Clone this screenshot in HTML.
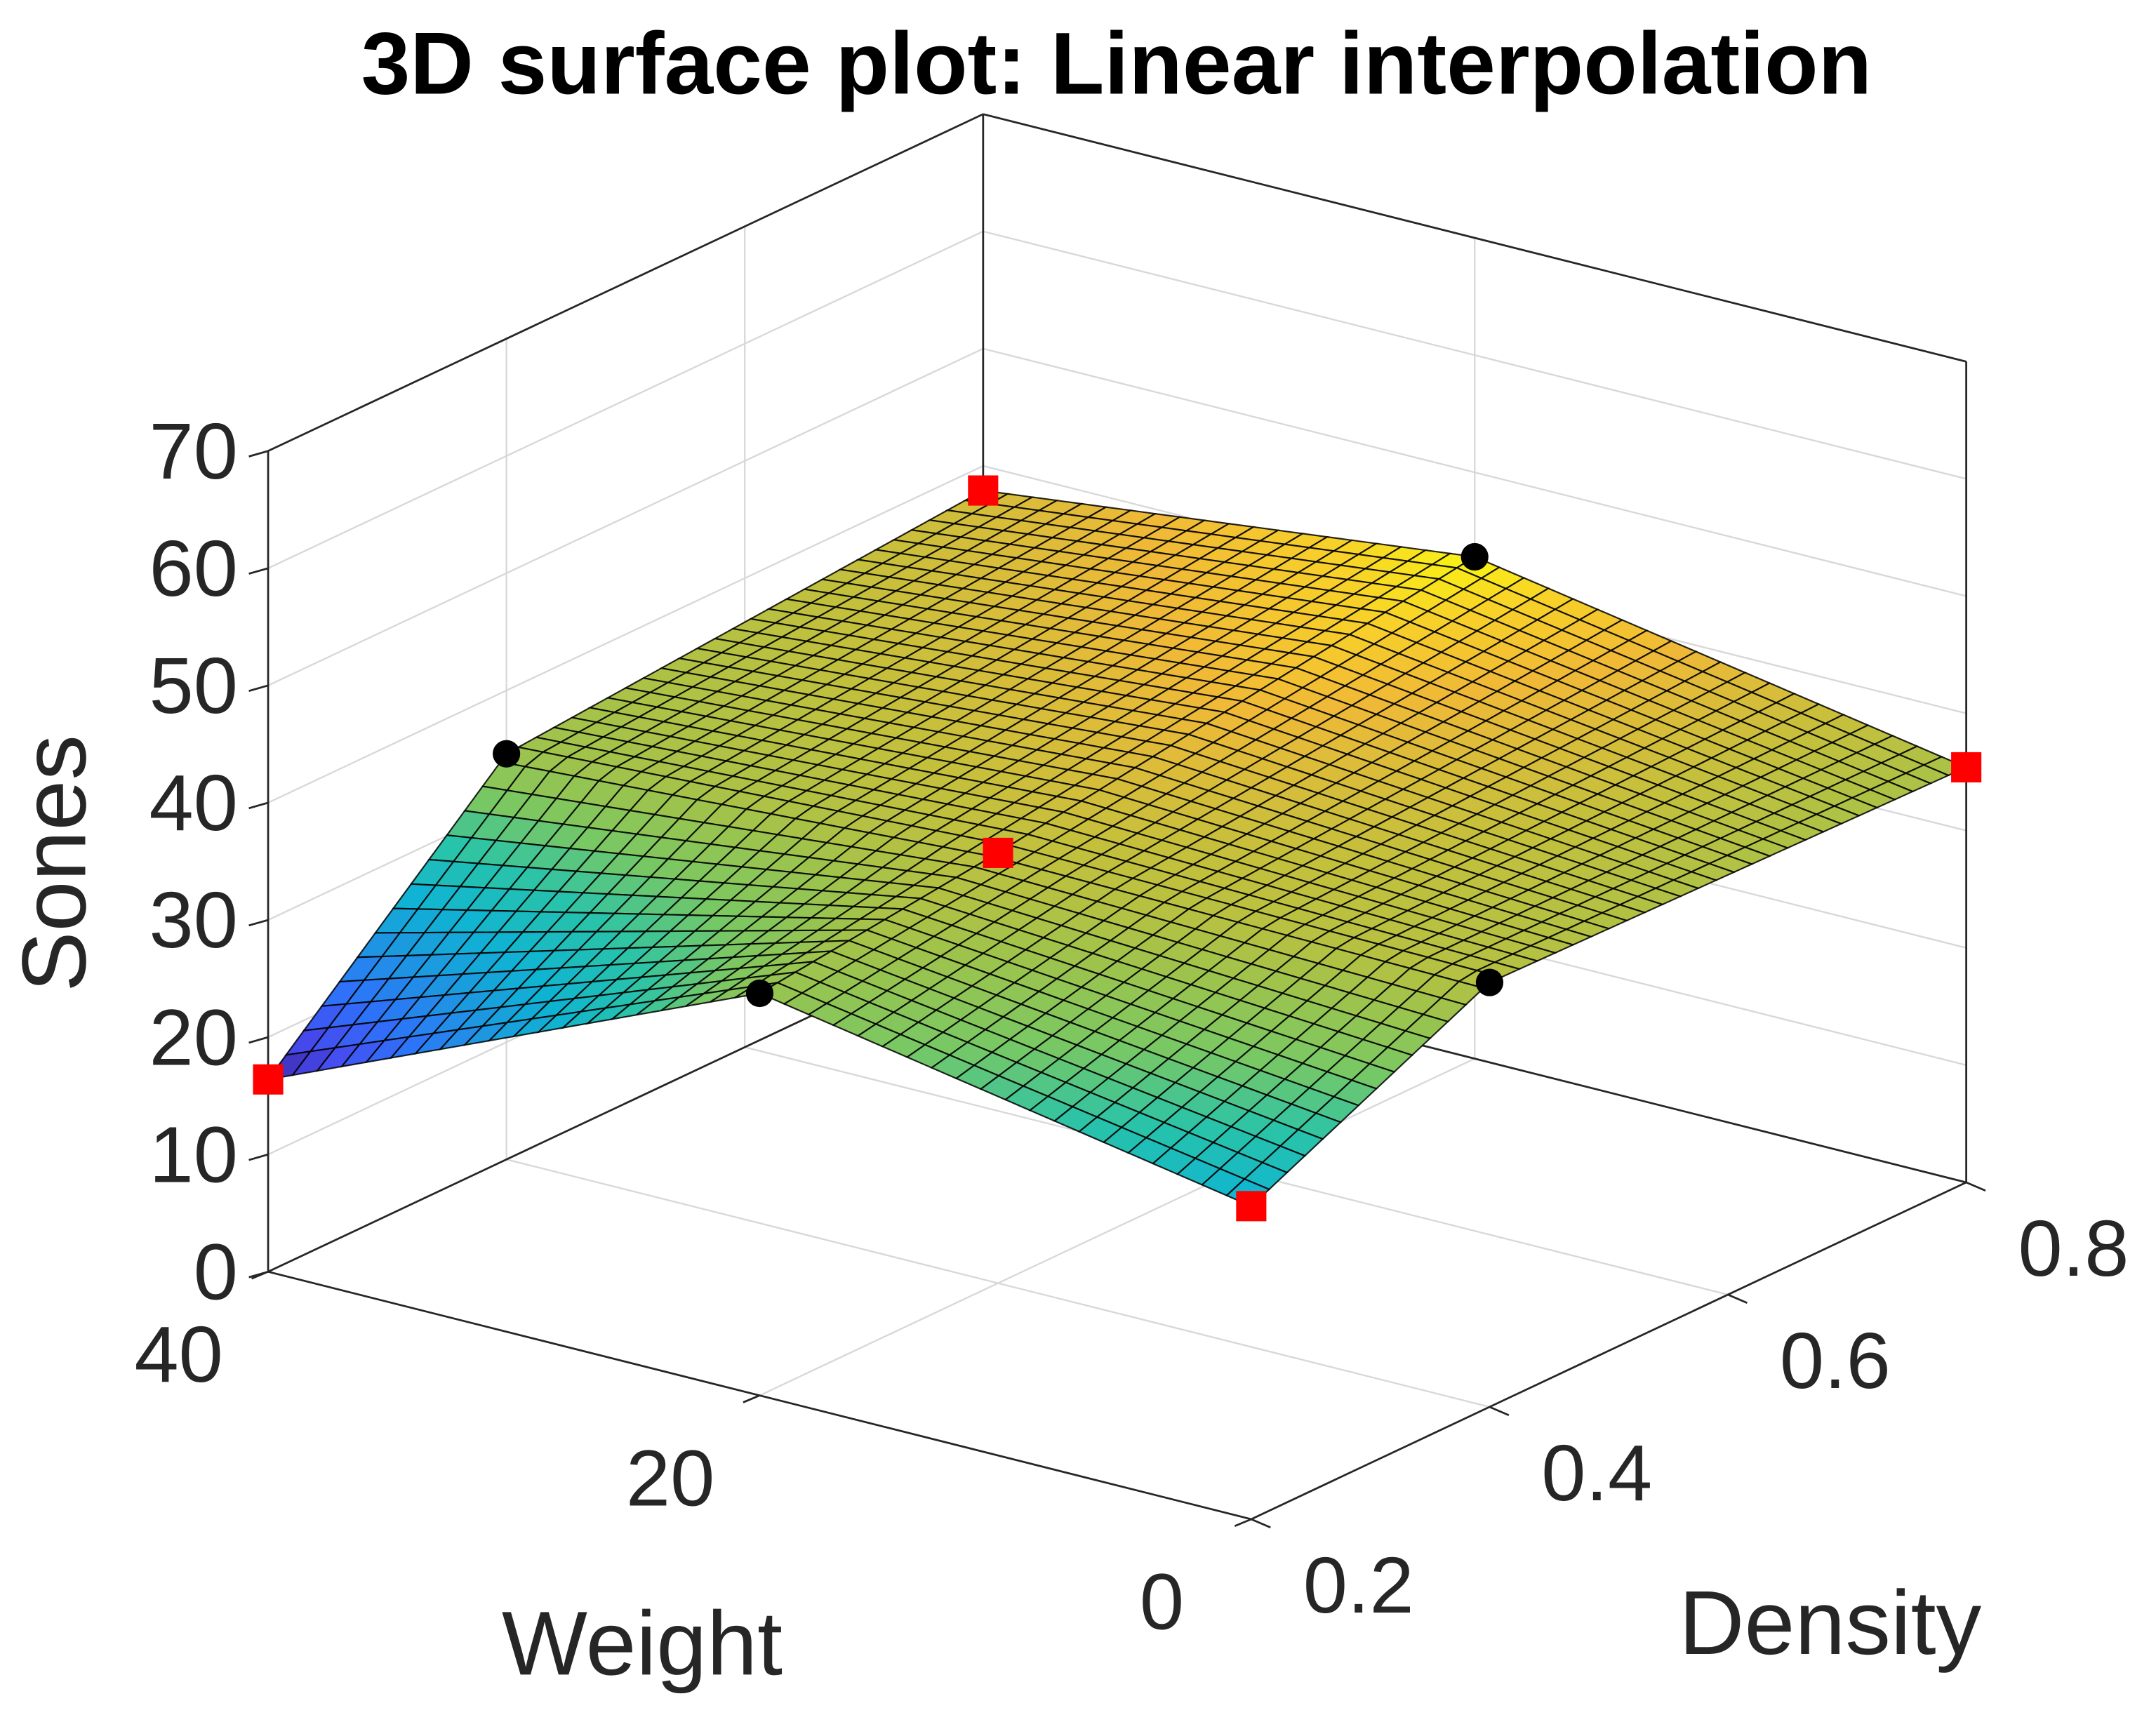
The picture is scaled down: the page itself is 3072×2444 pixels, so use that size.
<!DOCTYPE html>
<html><head><meta charset="utf-8">
<style>
html,body{margin:0;padding:0;background:#fff;}
svg{display:block;}
text{font-family:"Liberation Sans",Arial,sans-serif;fill:#262626;}
</style></head>
<body>
<svg id="chart" width="3072" height="2444" viewBox="0 0 1568 1247.4" xmlns="http://www.w3.org/2000/svg">
<g id="walls"></g>
<g id="surface"></g>
<g id="markers"></g>
<g id="labels"></g>
<text x="812" y="68" font-size="64" font-weight="bold" text-anchor="middle" style="fill:#000">3D surface plot: Linear interpolation</text>
<text x="0" y="0" font-size="66" text-anchor="middle" transform="translate(62,628) rotate(-90)">Sones</text>
<text x="467" y="1218" font-size="66" text-anchor="middle">Weight</text>
<text x="1331" y="1203" font-size="66" text-anchor="middle">Density</text>
</svg>
<script>
const weights = [0, 20, 40];
const densities = [0.2, 0.4, 0.8];
// sones[i][j] : weight index i, density index j
const sones = [
  [26.7, 36.2, 35.4],
  [34.3, 36.7, 42.8],
  [16.4, 34.6, 37.9]
];
const zTicks = [0, 10, 20, 30, 40, 50, 60, 70];
const wTicks = [0, 20, 40];
const dTicks = [0.2, 0.4, 0.6, 0.8];

const NS = 'http://www.w3.org/2000/svg';
const W0 = 0, W1 = 40, D0 = 0.2, D1 = 0.8, Z0 = 0, Z1 = 70;
function px(W, D, z) {
  const a = (W1 - W) / (W1 - W0), b = (D - D0) / (D1 - D0);
  return [195 + a * 715 + b * 520, 925 + a * 180 - b * 245 - (z - Z0) / (Z1 - Z0) * 597];
}
function mk(tag, attrs, parent) {
  const e = document.createElementNS(NS, tag);
  for (const k in attrs) e.setAttribute(k, attrs[k]);
  parent.appendChild(e);
  return e;
}
function line(p, q, stroke, sw, parent) {
  return mk('line', {x1: p[0], y1: p[1], x2: q[0], y2: q[1], stroke: stroke, 'stroke-width': sw}, parent);
}
const walls = document.getElementById('walls');
const grid = '#d8d8d8', axc = '#262626';
zTicks.forEach(z => {
  const g1 = line(px(W1, D0, z), px(W1, D1, z), grid, 1.2, walls);
  
  
  const g2 = line(px(W1, D1, z), px(W0, D1, z), grid, 1.2, walls);
  
  
});
dTicks.forEach(d => {
  const g = line(px(W1, d, Z0), px(W1, d, Z1), grid, 1.2, walls);
  
  
  const f = line(px(W1, d, Z0), px(W0, d, Z0), grid, 1.2, walls);
  
  
});
wTicks.forEach(w => {
  const g = line(px(w, D1, Z0), px(w, D1, Z1), grid, 1.2, walls);
  
  
  const f = line(px(w, D0, Z0), px(w, D1, Z0), grid, 1.2, walls);
  
  
});
[[px(W1,D0,Z0),px(W1,D0,Z1)],[px(W1,D1,Z0),px(W1,D1,Z1)],[px(W0,D1,Z0),px(W0,D1,Z1)],
 [px(W1,D0,Z1),px(W1,D1,Z1)],[px(W1,D1,Z1),px(W0,D1,Z1)],
 [px(W1,D0,Z0),px(W1,D1,Z0)],[px(W1,D1,Z0),px(W0,D1,Z0)],
 [px(W1,D0,Z0),px(W0,D0,Z0)],[px(W0,D0,Z0),px(W0,D1,Z0)]].forEach(s => {
  const e = line(s[0], s[1], axc, 1.4, walls);
  
  
});
const labels = document.getElementById('labels');
zTicks.forEach(z => {
  const p = px(W1, D0, z);
  const t = line([p[0] - 14, p[1] + 4], p, axc, 1.4, labels);
  
  
  const tx = mk('text', {x: p[0] - 22, y: p[1] + 20, 'font-size': 58, 'text-anchor': 'end'}, labels);
  tx.textContent = z;
  
  
});
wTicks.forEach(w => {
  const p = px(w, D0, Z0);
  const t = line(p, [p[0] - 12, p[1] + 5], axc, 1.4, labels);
  
  
  const tx = mk('text', {x: p[0] - 65, y: p[1] + 80, 'font-size': 58, 'text-anchor': 'middle'}, labels);
  tx.textContent = w;
  
  
});
dTicks.forEach(d => {
  const p = px(W0, d, Z0);
  const t = line(p, [p[0] + 14, p[1] + 6], axc, 1.4, labels);
  
  
  const tx = mk('text', {x: p[0] + 78, y: p[1] + 68, 'font-size': 58, 'text-anchor': 'middle'}, labels);
  tx.textContent = d.toFixed(1);
  
  
});
function interp(arr, v) {
  for (let k = 0; k < arr.length - 1; k++) if (v <= arr[k + 1] || k === arr.length - 2) return [k, (v - arr[k]) / (arr[k + 1] - arr[k])];
}
function zAt(W, D) {
  const [i, u] = interp(weights, W), [j, v] = interp(densities, D);
  return sones[i][j] * (1-u) * (1-v) + sones[i+1][j] * u * (1-v) + sones[i][j+1] * (1-u) * v + sones[i+1][j+1] * u * v;
}
const stops = [[0,[62,38,168]],[0.1,[70,75,240]],[0.2,[45,115,250]],[0.3,[30,150,225]],[0.4,[15,180,210]],[0.5,[40,195,170]],[0.6,[120,200,100]],[0.7,[160,195,75]],[0.78,[195,192,60]],[0.88,[240,185,55]],[0.95,[248,210,40]],[1,[249,245,20]]];
function parula(t) {
  t = Math.max(0, Math.min(1, t));
  for (let k = 0; k < stops.length - 1; k++) {
    if (t <= stops[k+1][0]) {
      const f = (t - stops[k][0]) / (stops[k+1][0] - stops[k][0]);
      const a = stops[k][1], b = stops[k+1][1];
      return 'rgb(' + a.map((c, m) => Math.round(c + (b[m] - c) * f)).join(',') + ')';
    }
  }
}
const N = 40;
let zmin = Infinity, zmax = -Infinity;
sones.forEach(r => r.forEach(z => { zmin = Math.min(zmin, z); zmax = Math.max(zmax, z); }));
const quads = [];
for (let a = 0; a < N; a++) for (let b = 0; b < N; b++) {
  const Wa = W0 + (W1 - W0) * a / N, Wb = W0 + (W1 - W0) * (a + 1) / N;
  const Da = D0 + (D1 - D0) * b / N, Db = D0 + (D1 - D0) * (b + 1) / N;
  const c = [[Wa,Da],[Wb,Da],[Wb,Db],[Wa,Db]];
  const zs = c.map(q => zAt(q[0], q[1]));
  const pts = c.map((q, k) => px(q[0], q[1], zs[k]));
  const zm = zs.reduce((s, v) => s + v, 0) / 4;
  const depth = px((Wa + Wb) / 2, (Da + Db) / 2, 0)[1];
  quads.push({pts, zm, depth});
}
quads.sort((p, q) => p.depth - q.depth);
const surf = document.getElementById('surface');
quads.forEach(q => {
  const e = mk('polygon', {points: q.pts.map(p => p[0].toFixed(2) + ',' + p[1].toFixed(2)).join(' '),
    fill: parula((q.zm - zmin) / (zmax - zmin)), stroke: '#000', 'stroke-width': 1.1, 'stroke-opacity': 0.85}, surf);
  
  
});
const mg = document.getElementById('markers');
weights.forEach((w, i) => densities.forEach((d, j) => {
  const p = px(w, d, sones[i][j]);
  if ((i + j) % 2 === 0) {
    const e = mk('rect', {x: p[0] - 11, y: p[1] - 11, width: 22, height: 22, fill: '#ff0000'}, mg);
    
    
  } else {
    const e = mk('circle', {cx: p[0], cy: p[1], r: 10, fill: '#000'}, mg);
    
    
  }
}));
</script>
</body></html>
